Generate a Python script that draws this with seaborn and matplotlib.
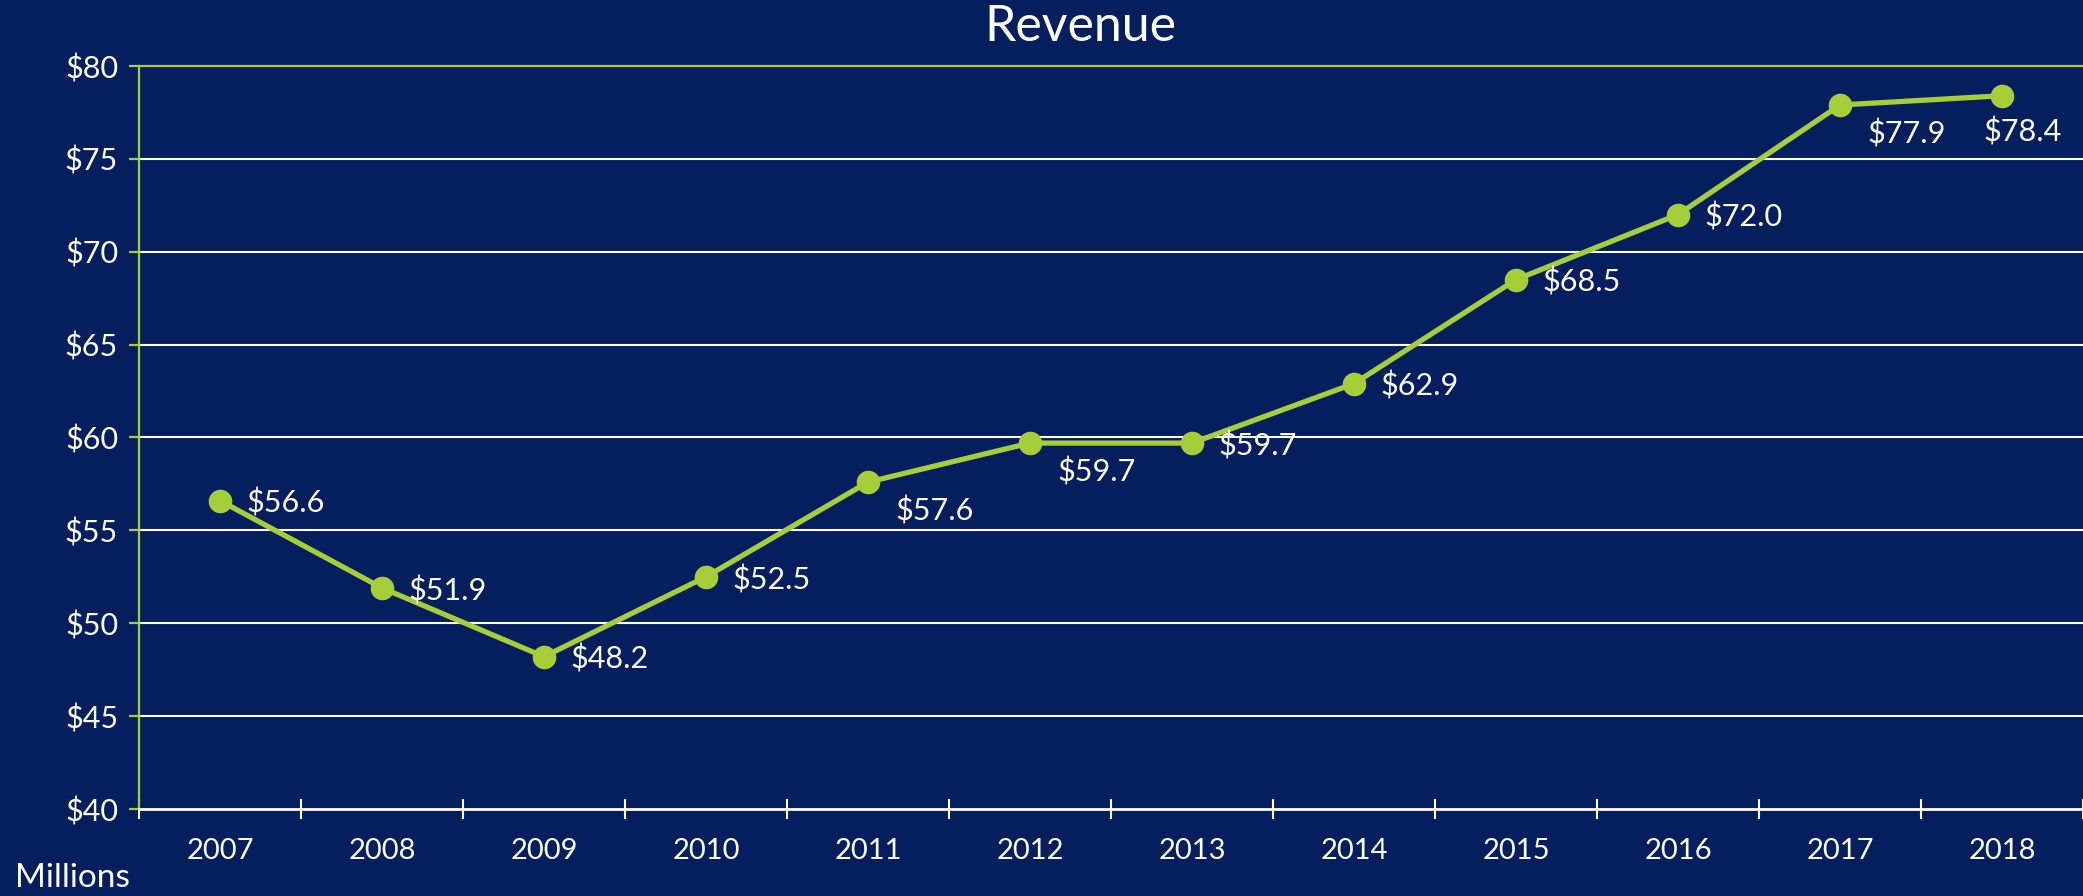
import matplotlib
matplotlib.use("Agg")
import matplotlib.pyplot as plt
import seaborn as sns
import numpy as np
import pandas as pd

years = ["2007", "2008", "2009", "2010", "2011", "2012",
         "2013", "2014", "2015", "2016", "2017", "2018"]
revenue = [56.6, 51.9, 48.2, 52.5, 57.6, 59.7, 59.7, 62.9, 68.5, 72.0, 77.9, 78.4]
y_ticks = [40, 45, 50, 55, 60, 65, 70, 75, 80]
title = "Revenue"
unit_label = "Millions"

# label placement style: 'r' = right of point, 'br' = below-right, 'b' = below
label_side = ['r', 'r', 'r', 'r', 'br', 'br', 'r', 'r', 'r', 'r', 'br', 'b']

BG = "#041E5E"
GREEN = "#A6CE39"
WHITE = "#FFFFFF"

sns.set_theme(style="dark")
plt.rcParams['font.family'] = ['Lato', 'DejaVu Sans']
plt.rcParams['font.weight'] = 'normal'

df = pd.DataFrame({"year": years, "revenue": revenue})

fig = plt.figure(figsize=(20.83, 8.96), dpi=100, facecolor=BG)
ax = fig.add_axes([139 / 2083, 1 - 809 / 896, 1 - 139 / 2083, (809 - 66) / 896])
ax.set_facecolor(BG)

sns.pointplot(data=df, x="year", y="revenue", color=GREEN, ax=ax,
              markers="o", markersize=17, linewidth=3.8, zorder=5)
for ln in ax.lines:
    ln.set_linewidth(3.8)
    ln.set_markersize(17)
    ln.set_markeredgewidth(0)
    ln.set_zorder(5)

ax.set_xlim(-0.5, len(years) - 0.5)
ax.set_ylim(y_ticks[0], y_ticks[-1])
ax.set_yticks(y_ticks)
ax.set_yticklabels([f"${v}" for v in y_ticks])
ax.grid(False)
for v in y_ticks[1:-1]:
    ax.axhline(v, color=WHITE, lw=1.5, zorder=1)

ax.set_xlabel("")
ax.set_ylabel("")

for s in ["left", "top"]:
    ax.spines[s].set_visible(True)
    ax.spines[s].set_color(GREEN)
    ax.spines[s].set_linewidth(1.6)
ax.spines["right"].set_visible(False)
ax.spines["bottom"].set_visible(True)
ax.spines["bottom"].set_color(WHITE)
ax.spines["bottom"].set_linewidth(2.0)
ax.spines["bottom"].set_zorder(3)

ax.tick_params(axis="y", which="major", direction="out", length=7, width=1.6,
               color=GREEN, labelcolor=WHITE, labelsize=22, pad=8, left=True)
ax.tick_params(axis="x", which="major", length=0, labelcolor=WHITE,
               labelsize=21, pad=21, bottom=True)
ax.set_xticks(np.arange(len(years) + 1) - 0.5, minor=True)
ax.tick_params(axis="x", which="minor", direction="inout", length=14, width=1.5,
               color=WHITE, bottom=True)

offsets = {'r': (19, -2, 'left', 'center'),
           'br': (20, -21, 'left', 'center'),
           'b': (15, -26, 'center', 'center')}
for i, (yr, v) in enumerate(zip(years, revenue)):
    dx, dy, ha, va = offsets[label_side[i]]
    ax.annotate(f"${v:.1f}", xy=(i, v), xytext=(dx, dy), textcoords="offset points",
                ha=ha, va=va, color=WHITE, fontsize=22, zorder=6)

fig.text(1080 / 2083, 1 - 27 / 896, title, ha="center", va="center",
         color=WHITE, fontsize=36)
fig.text(15 / 2083, 1 - 878 / 896, unit_label, ha="left", va="center",
         color=WHITE, fontsize=24)

fig.savefig("out.png", dpi=100, facecolor=BG)
